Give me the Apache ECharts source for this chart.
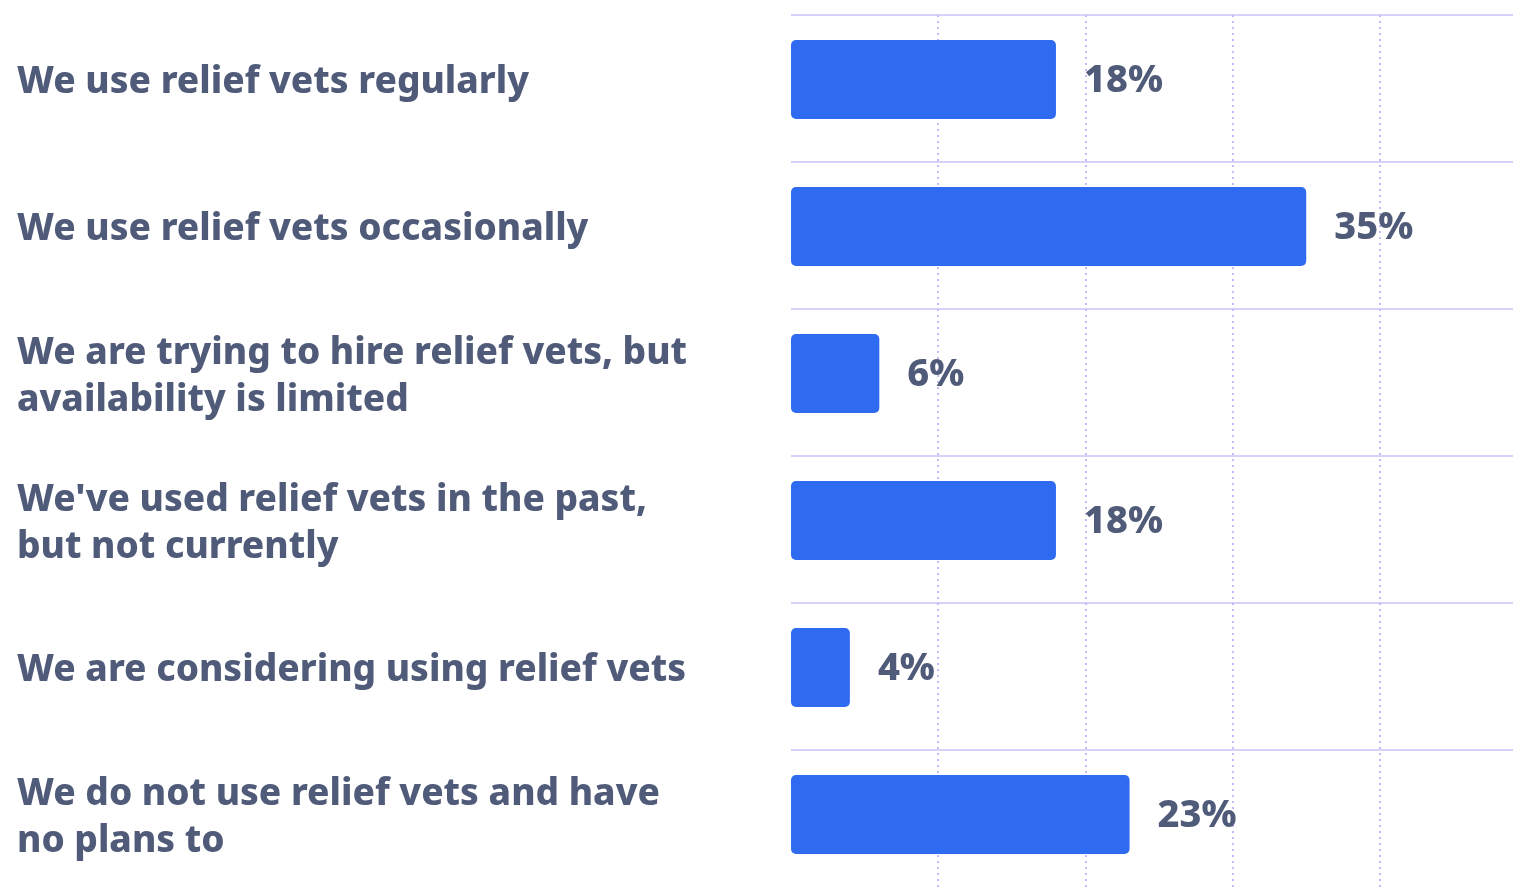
<!DOCTYPE html>
<html>
<head>
<meta charset="utf-8">
<title>Relief vets</title>
<script src="https://cdn.jsdelivr.net/npm/echarts@6/dist/echarts.min.js"></script>
<style>
  html, body { margin: 0; padding: 0; background: #fff; }
  #main { width: 1513px; height: 890px; }
</style>
</head>
<body>
<div id="main"></div>
<script>
// answers, top to bottom
var categories = [
  'We use relief vets regularly',
  'We use relief vets occasionally',
  'We are trying to hire relief vets, but\navailability is limited',
  "We've used relief vets in the past,\nbut not currently",
  'We are considering using relief vets',
  'We do not use relief vets and have\nno plans to'
];
var shares = [18, 35, 6, 18, 4, 23];
var xTicks = [0, 10, 20, 30, 40, 50];

var textColor = '#505b79';
var font = '"Noto Sans", sans-serif';

function hiddenX(i, extra) {
  return Object.assign({
    gridIndex: i, type: 'value', min: xTicks[0], max: xTicks[xTicks.length - 1], interval: 10,
    axisLine: { show: false }, axisTick: { show: false }, axisLabel: { show: false }, splitLine: { show: false }
  }, extra || {});
}

var chart = echarts.init(document.getElementById('main'));
chart.setOption({
  animation: false,
  grid: [
    // bars
    { left: 791, right: -14, top: 6, bottom: 2, outerBoundsMode: 'none' },
    // background rules (slightly lower than the bars)
    { left: 791, right: -14, top: 15, bottom: -7, outerBoundsMode: 'none' },
    // category labels
    { left: 791, right: -14, top: 9, bottom: -1, outerBoundsMode: 'none' }
  ],
  xAxis: [
    hiddenX(0),
    hiddenX(1, {
      splitLine: { show: true, showMinLine: false, showMaxLine: false,
        lineStyle: { color: '#c3bcf7', width: 2, type: [2, 4] } }
    }),
    hiddenX(2)
  ],
  yAxis: [
    { gridIndex: 0, type: 'category', data: categories, inverse: true,
      axisLine: { show: false }, axisTick: { show: false }, splitLine: { show: false },
      axisLabel: { show: false } },
    { gridIndex: 1, type: 'category', data: categories, inverse: true,
      axisLine: { show: false }, axisTick: { show: false }, axisLabel: { show: false },
      splitLine: { show: true, lineStyle: { color: '#d6d2fa', width: 2 } } },
    { gridIndex: 2, type: 'category', data: categories, inverse: true,
      axisLine: { show: false }, axisTick: { show: false }, splitLine: { show: false },
      axisLabel: {
        align: 'left', margin: 774, color: textColor, fontFamily: font,
        fontWeight: 800, fontSize: 37, lineHeight: 47
      } }
  ],
  series: [{
    type: 'bar',
    xAxisIndex: 0, yAxisIndex: 0,
    data: shares,
    barWidth: 79,
    z: 3,
    itemStyle: { color: '#2f6bf0', borderRadius: 5 },
    label: {
      show: true, position: 'right', distance: 28, offset: [0, 2],
      formatter: '{c}%', color: textColor, fontFamily: font,
      fontWeight: 800, fontSize: 38
    }
  }]
});
</script>
</body>
</html>
